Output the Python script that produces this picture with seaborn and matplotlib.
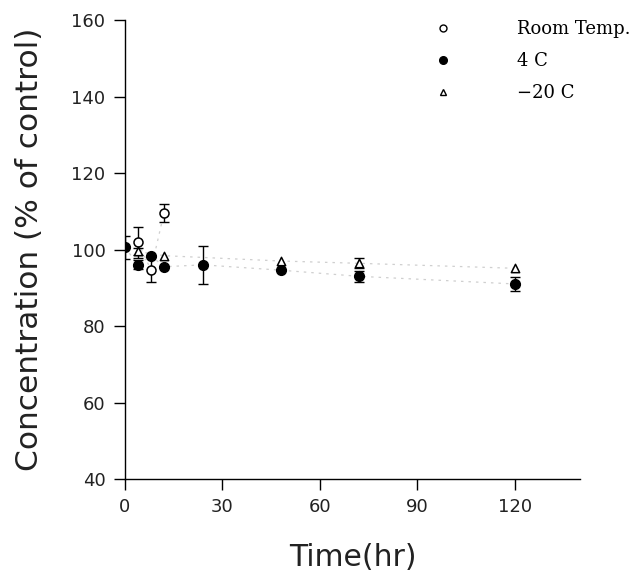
import numpy as np
import pandas as pd
import matplotlib
matplotlib.use('Agg')
import matplotlib.pyplot as plt
import seaborn as sns
from matplotlib.lines import Line2D

# Data (% of control vs time in hours)
room_time = [4, 8, 12]
room_conc = [101.9, 94.7, 109.5]
room_err = [4.0, 3.3, 2.3]

cold_time = [0, 4, 8, 12, 24, 48, 72, 120]
cold_conc = [100.6, 96.0, 98.4, 95.5, 96.0, 94.6, 93.0, 91.0]
cold_err = [3.0, 1.2, 0.0, 0.0, 4.9, 0.0, 1.5, 1.9]

frozen_time = [4, 12, 48, 72, 120]
frozen_conc = [99.5, 98.4, 97.0, 96.4, 95.1]
frozen_err = [1.0, 0.0, 0.0, 1.3, 0.0]

series_names = ['Room Temp.', '4 C', '\u221220 C']
x_ticks = [0, 30, 60, 90, 120]
y_ticks = [40, 60, 80, 100, 120, 140, 160]

df = pd.concat([
    pd.DataFrame({'time': room_time, 'conc': room_conc, 'err': room_err, 'group': series_names[0]}),
    pd.DataFrame({'time': cold_time, 'conc': cold_conc, 'err': cold_err, 'group': series_names[1]}),
    pd.DataFrame({'time': frozen_time, 'conc': frozen_conc, 'err': frozen_err, 'group': series_names[2]}),
], ignore_index=True)

sns.set_style('ticks')
plt.rcParams['font.family'] = ['DejaVu Sans']
plt.rcParams['text.color'] = 'black'
plt.rcParams['axes.labelcolor'] = 'black'

fig = plt.figure(figsize=(6.44, 5.74), dpi=100)
ax = fig.add_axes([0.194, 0.1655, 0.7066, 0.7995])

# faint dotted connecting lines
sns.lineplot(data=df, x='time', y='conc', hue='group', hue_order=series_names,
             palette=['#cfcfcf'] * 3, linestyle=(0, (2, 4)), linewidth=0.9,
             legend=False, ax=ax, zorder=1)

# error bars
for g in series_names:
    sub = df[df['group'] == g]
    sub = sub[sub['err'] > 0]
    ax.errorbar(sub['time'], sub['conc'], yerr=sub['err'], fmt='none',
                ecolor='black', elinewidth=1.0, capsize=3.5, capthick=1.0, zorder=2)

markers = {series_names[0]: 'o', series_names[1]: 'o', series_names[2]: '^'}
styles = {
    series_names[0]: dict(facecolor='white', size=42),
    series_names[1]: dict(facecolor='black', size=48),
    series_names[2]: dict(facecolor='white', size=36),
}
for g in series_names:
    sub = df[df['group'] == g]
    sns.scatterplot(data=sub, x='time', y='conc', marker=markers[g],
                    s=styles[g]['size'], color=styles[g]['facecolor'],
                    edgecolor='black', linewidth=1.1, ax=ax, zorder=3)

ax.set_xlim(0, 140)
ax.set_ylim(40, 160)
ax.set_xticks(x_ticks)
ax.set_yticks(y_ticks)
ax.tick_params(axis='both', direction='out', length=8, width=1.0,
               labelsize=13, colors='black', labelcolor='#222222', pad=6)
for s in ['top', 'right']:
    ax.spines[s].set_visible(False)
for s in ['left', 'bottom']:
    ax.spines[s].set_linewidth(1.0)
    ax.spines[s].set_color('black')

ax.set_xlabel('Time(hr)', fontsize=21.5, labelpad=19, color='#222222')
ax.set_ylabel('Concentration (% of control)', fontsize=22.5, labelpad=20, color='#222222')

# legend
handles = [
    Line2D([], [], linestyle='none', marker='o', markersize=5, markerfacecolor='white',
           markeredgecolor='black', markeredgewidth=1.0),
    Line2D([], [], linestyle='none', marker='o', markersize=5.5, markerfacecolor='black',
           markeredgecolor='black'),
    Line2D([], [], linestyle='none', marker='^', markersize=4.5, markerfacecolor='white',
           markeredgecolor='black', markeredgewidth=1.0),
]
fig.legend(handles, series_names, loc='upper left', bbox_to_anchor=(0.646, 0.993),
           frameon=False, prop={'family': 'DejaVu Serif', 'size': 13},
           handletextpad=3.5, labelspacing=0.78, handlelength=1.2)

fig.savefig('out.png', dpi=100)
